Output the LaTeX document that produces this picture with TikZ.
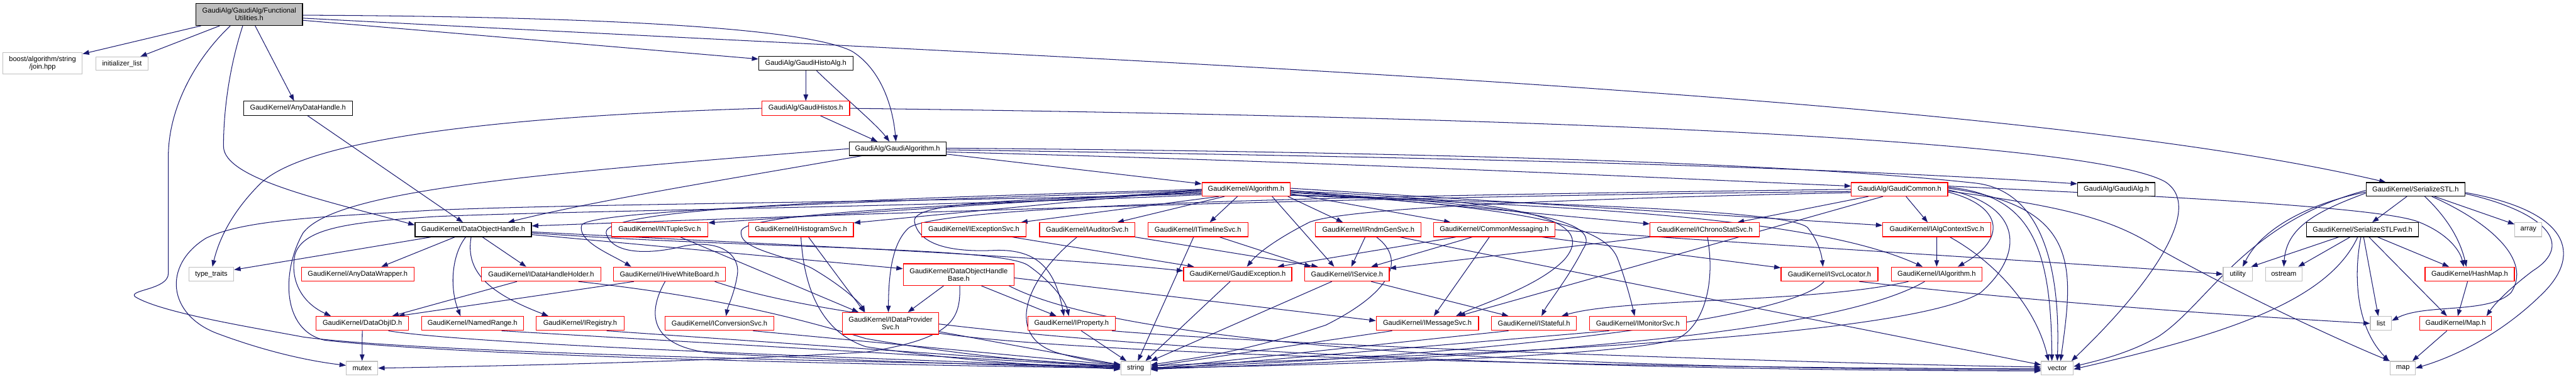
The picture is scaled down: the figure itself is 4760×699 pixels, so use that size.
\documentclass[tikz,border=0pt]{standalone}
\usepackage{fontspec}
\setmainfont{Liberation Sans}
\usetikzlibrary{arrows.meta,calc}
\definecolor{edgec}{HTML}{191970}
\definecolor{graybd}{HTML}{BFBFBF}
\definecolor{topfill}{HTML}{BFBFBF}
\newcommand\fs{\fontsize{9.7}{10.8}\selectfont}
\pgfdeclarelayer{bg}
\pgfdeclarelayer{paper}
\pgfsetlayers{paper,bg,main}
\tikzset{
  base/.style={rectangle, inner sep=0pt, font=\fs, align=center, line width=1pt, fill=white},
  nb/.style={base, draw=black},
  nr/.style={base, draw=red},
  ng/.style={base, draw=graybd},
  nt/.style={base, draw=black, fill=topfill},
  sz/.style 2 args={minimum width=#1*0.75pt, minimum height=#2*0.75pt},
  e/.style={draw=edgec, line width=0.9pt, -{Triangle[length=9pt,width=6.5pt]}}
}
\begin{document}
\begin{tikzpicture}[x=0.75pt,y=-0.75pt]
\begin{pgfonlayer}{paper}
\fill[white] (0,0) rectangle (4760,699);
\end{pgfonlayer}
\path[use as bounding box] (0,0) rectangle (4760,699);
% row 0-4
\node[nt, sz={197}{41}] (fu) at (460.5,26.5) {GaudiAlg/GaudiAlg/Functional\\Utilities.h};
\node[ng, sz={147}{40}] (boost) at (78.5,117) {boost/algorithm/string\\/join.hpp};
\node[ng, sz={97}{25}] (initl) at (225.5,117.5) {initializer\_list};
\node[nb, sz={201}{26}] (adh) at (550.5,200) {GaudiKernel/AnyDataHandle.h};
\node[nb, sz={174}{26}] (gha) at (1489,117) {GaudiAlg/GaudiHistoAlg.h};
\node[nr, sz={162}{26}] (ghs) at (1489,200) {GaudiAlg/GaudiHistos.h};
\node[nb, sz={179}{25}] (galg) at (1658.5,274.5) {GaudiAlg/GaudiAlgorithm.h};
\node[nr, sz={163}{25}] (alg) at (2302.5,349.5) {GaudiKernel/Algorithm.h};
\node[nr, sz={178}{25}] (gcom) at (3510,349.5) {GaudiAlg/GaudiCommon.h};
\node[nb, sz={143}{25}] (galgh) at (3910.5,349.5) {GaudiAlg/GaudiAlg.h};
\node[nb, sz={183}{25}] (sstl) at (4463.5,349.5) {GaudiKernel/SerializeSTL.h};
% row 5
\node[nb, sz={215}{26}] (doh) at (874.5,424) {GaudiKernel/DataObjectHandle.h};
\node[nr, sz={178}{26}] (ntup) at (1219,424) {GaudiKernel/INTupleSvc.h};
\node[nr, sz={194}{26}] (hist) at (1480,424) {GaudiKernel/IHistogramSvc.h};
\node[nr, sz={193}{26}] (exc) at (1799.5,424) {GaudiKernel/IExceptionSvc.h};
\node[nr, sz={176}{26}] (aud) at (2009,424) {GaudiKernel/IAuditorSvc.h};
\node[nr, sz={185}{26}] (tl) at (2213.5,424) {GaudiKernel/ITimelineSvc.h};
\node[nr, sz={195}{26}] (rndm) at (2528.5,424) {GaudiKernel/IRndmGenSvc.h};
\node[nr, sz={224}{26}] (cmsg) at (2761,424) {GaudiKernel/CommonMessaging.h};
\node[nr, sz={202}{26}] (chrono) at (3150,424) {GaudiKernel/IChronoStatSvc.h};
\node[nr, sz={200}{26}] (actx) at (3579,424) {GaudiKernel/IAlgContextSvc.h};
\node[nb, sz={207}{26}] (sfwd) at (4365.5,424) {GaudiKernel/SerializeSTLFwd.h};
\node[ng, sz={50}{26}] (array) at (4672,424) {array};
% row 6
\node[ng, sz={83}{26}] (tt) at (390.5,506) {type\_traits};
\node[nr, sz={208}{26}] (adw) at (661,506) {GaudiKernel/AnyDataWrapper.h};
\node[nr, sz={220}{26}] (dhh) at (1000,506) {GaudiKernel/IDataHandleHolder.h};
\node[nr, sz={206}{26}] (hwb) at (1237,506) {GaudiKernel/IHiveWhiteBoard.h};
\node[nr, sz={205}{40}] (dohb) at (1771.5,507) {GaudiKernel/DataObjectHandle\\Base.h};
\node[nr, sz={200}{26}] (gexc) at (2287,506) {GaudiKernel/GaudiException.h};
\node[nr, sz={156}{26}] (isvc) at (2489,506) {GaudiKernel/IService.h};
\node[nr, sz={179}{26}] (sloc) at (3380.5,506) {GaudiKernel/ISvcLocator.h};
\node[nr, sz={167}{26}] (ialg) at (3578.5,506) {GaudiKernel/IAlgorithm.h};
\node[ng, sz={54}{26}] (util) at (4135,506) {utility};
\node[ng, sz={68}{26}] (ostr) at (4220,506) {ostream};
\node[nr, sz={165}{26}] (hmap) at (4563.5,506) {GaudiKernel/HashMap.h};
% row 7
\node[nr, sz={171}{26}] (doid) at (669.5,597) {GaudiKernel/DataObjID.h};
\node[nr, sz={188}{26}] (nrng) at (873,597) {GaudiKernel/NamedRange.h};
\node[nr, sz={162}{26}] (ireg) at (1072,597) {GaudiKernel/IRegistry.h};
\node[nr, sz={201}{26}] (conv) at (1329.5,597) {GaudiKernel/IConversionSvc.h};
\node[nr, sz={177}{40}] (dps) at (1645.5,597) {GaudiKernel/IDataProvider\\Svc.h};
\node[nr, sz={162}{26}] (prop) at (1980,597) {GaudiKernel/IProperty.h};
\node[nr, sz={189}{26}] (msg) at (2637.5,597) {GaudiKernel/IMessageSvc.h};
\node[nr, sz={157}{26}] (stat) at (2834.5,597) {GaudiKernel/IStateful.h};
\node[nr, sz={179}{26}] (mon) at (3026.5,597) {GaudiKernel/IMonitorSvc.h};
\node[ng, sz={39}{26}] (list) at (4399.5,597) {list};
\node[nr, sz={133}{26}] (mapk) at (4537.5,597) {GaudiKernel/Map.h};
% row 8
\node[ng, sz={58}{25}] (mutex) at (669,679.5) {mutex};
\node[ng, sz={55}{25}] (string) at (2098.5,679.5) {string};
\node[ng, sz={59}{25}] (vector) at (3801.5,679.5) {vector};
\node[ng, sz={46}{25}] (map) at (4440,679.5) {map};

\begin{pgfonlayer}{bg}
% FunctionalUtilities
\draw[e] (fu) -- (boost);
\draw[e] (fu) -- (initl);
\draw[e] (fu) -- (adh);
\draw[e] ($(fu.south)+(-35,0)$) .. controls (360,110) and (311,200) .. (311,290) -- (311,505) .. controls (311,535) and (235,535) .. (250,548) .. controls (300,578) and (470,605) .. (560,622) .. controls (800,655) and (1800,672) .. ($(string.west)+(0,-3)$);
\draw[e] ($(fu.south)+(-12,0)$) .. controls (425,120) and (413,200) .. (413,270) .. controls (413,330) and (600,370) .. ($(doh.north west)+(0,5)$);
\draw[e] ($(fu.east)+(0,1.5)$) .. controls (1000,30) and (1480,45) .. (1575,95) .. controls (1630,130) and (1650,200) .. ($(galg.north)+(-3,0)$);
\draw[e] ($(fu.east)+(0,7)$) .. controls (2000,110) and (3700,170) .. ($(sstl.north)+(-55,0)$);
\draw[e] ($(fu.east)+(0,11)$) -- ($(gha.west)+(0,-8)$);
\draw[e] ($(adh.south)+(18,0)$) -- ($(doh.north west)+(89,0)$);
% Histo
\draw[e] (gha) -- (ghs);
\draw[e] ($(gha.south)+(20,0)$) .. controls (1560,180) and (1620,230) .. ($(galg.north)+(-15,0)$);
\draw[e] ($(ghs.south)+(27,0)$) -- ($(galg.north)+(-37,0)$);
\draw[e] (ghs.west) .. controls (900,215) and (560,260) .. (480,340) .. controls (430,390) and (405,440) .. ($(tt.north)+(2,0)$);
\draw[e] (ghs.east) .. controls (2800,215) and (3850,255) .. (4000,335) .. controls (4080,385) and (3960,540) .. ($(vector.north east)+(-4,0)$);
% GaudiAlgorithm
\draw[e] ($(galg.east)+(0,10)$) -- ($(alg.north west)+(0,3)$);
\draw[e] ($(galg.east)+(0,6)$) .. controls (2500,300) and (3100,330) .. ($(gcom.west)+(0,-6)$);
\draw[e] ($(galg.east)+(0,2)$) .. controls (2500,288) and (3300,303) .. ($(galgh.north west)+(0,3)$);
\draw[e] ($(galg.east)+(0,-1)$) .. controls (2600,280) and (3300,300) .. (3650,338) .. controls (3800,355) and (3805,560) .. (vector.north);
\draw[e] ($(galg.south west)+(24,0)$) .. controls (1350,330) and (1100,370) .. ($(doh.north east)+(-44,0)$);
\draw[e] (galg.west) .. controls (1000,320) and (620,350) .. (560,430) .. controls (520,500) and (520,610) .. (600,628) .. controls (900,662) and (1800,676) .. (string.west);
% Algorithm
\draw[e] ($(alg.west)+(0,2)$) -- ($(ntup.north east)+(0,1)$);
\draw[e] ($(alg.west)+(0,0)$) -- ($(hist.north east)+(0,1)$);
\draw[e] ($(alg.south west)+(32,0)$) -- ($(exc.north east)+(-10,0)$);
\draw[e] ($(alg.south)+(-40,0)$) -- ($(aud.north east)+(-33,0)$);
\draw[e] ($(alg.south)+(-16,0)$) -- ($(tl.north)+(22,0)$);
\draw[e] ($(alg.south east)+(-5,0)$) -- ($(rndm.north west)+(51,0)$);
\draw[e] ($(alg.east)+(0,8)$) -- ($(cmsg.north west)+(32,0)$);
\draw[e] ($(alg.east)+(0,2)$) -- ($(chrono.north west)+(0,3)$);
\draw[e] ($(alg.east)+(0,-2)$) -- ($(actx.west)+(0,-8)$);
\draw[e] ($(alg.south east)+(-34,0)$) -- ($(isvc.north west)+(55,0)$);
\draw[e] ($(alg.east)+(0,10)$) .. controls (2800,375) and (3300,385) .. (3340,420) .. controls (3360,445) and (3366,470) .. ($(sloc.north)+(-12,0)$);
\draw[e] ($(alg.east)+(0,11)$) .. controls (2900,380) and (3350,400) .. ($(ialg.north)+(-26,0)$);
\draw[e] ($(alg.east)+(0,3)$) .. controls (2800,370) and (2960,400) .. (2890,480) .. controls (2840,530) and (2740,560) .. ($(msg.north)+(53,0)$);
\draw[e] ($(alg.east)+(0,5)$) .. controls (2850,380) and (2960,410) .. (2925,460) .. controls (2900,510) and (2860,560) .. ($(stat.north)+(14,0)$);
\draw[e] ($(alg.east)+(0,6)$) .. controls (2850,385) and (2970,420) .. (2990,480) .. controls (3005,520) and (3015,560) .. ($(mon.north)+(-6,0)$);
\draw[e] ($(alg.west)+(0,2)$) .. controls (1700,370) and (1100,385) .. (1075,415) .. controls (1065,445) and (1130,470) .. ($(hwb.north west)+(33,0)$);
\draw[e] (alg.west) .. controls (1700,365) and (1110,380) .. (1120,430) .. controls (1130,470) and (1200,470) .. (1260,455) .. controls (1330,440) and (1370,470) .. (1362,510) .. controls (1356,545) and (1345,565) .. ($(conv.north)+(12,0)$);
\draw[e] ($(alg.west)+(0,4)$) .. controls (1800,380) and (1390,390) .. (1370,425) .. controls (1360,460) and (1450,470) .. (1500,495) .. controls (1560,530) and (1590,560) .. ($(dps.north west)+(42,0)$);
\draw[e] ($(alg.west)+(0,6)$) .. controls (1900,370) and (1680,370) .. (1690,410) .. controls (1700,460) and (1780,465) .. (1840,462) .. controls (1920,460) and (1950,500) .. ($(prop.north)+(-14,0)$);
\draw[e] ($(alg.west)+(0,8)$) .. controls (1800,372) and (1100,375) .. (800,388) .. controls (600,400) and (450,405) .. (380,440) .. controls (300,490) and (310,580) .. (400,615) .. controls (480,645) and (560,665) .. ($(mutex.west)+(0,-5)$);
\draw[e] ($(alg.west)+(0,10)$) .. controls (1800,380) and (1000,390) .. (800,400) .. controls (650,410) and (560,420) .. (545,470) .. controls (535,520) and (560,560) .. ($(doid.north west)+(28,0)$);
% GaudiCommon
\draw[e] ($(gcom.west)+(0,4)$) .. controls (2500,362) and (1500,398) .. ($(doh.east)+(0,-7)$);
\draw[e] ($(gcom.south west)+(32,0)$) -- ($(chrono.north east)+(-41,0)$);
\draw[e] ($(gcom.south)+(12,0)$) -- ($(actx.north)+(-17,0)$);
\draw[e] ($(gcom.south west)+(59,0)$) -- ($(msg.north)+(58,0)$);
\draw[e] ($(gcom.east)+(0,5)$) .. controls (3700,380) and (3710,440) .. ($(ialg.north east)+(-45,0)$);
\draw[e] ($(gcom.west)+(0,6)$) .. controls (3000,365) and (2500,380) .. (2420,410) .. controls (2380,430) and (2330,460) .. ($(gexc.north)+(17,0)$);
\draw[e] (gcom.west) .. controls (2600,360) and (1750,375) .. (1680,420) .. controls (1645,450) and (1642,520) .. ($(dps.north)+(-4,0)$);
\draw[e] ($(gcom.east)+(0,-4)$) .. controls (3750,360) and (3790,450) .. ($(vector.north)+(-10,0)$);
\draw[e] ($(gcom.east)+(0,-2)$) .. controls (3850,380) and (3830,500) .. ($(vector.north)+(6,0)$);
\draw[e] ($(gcom.east)+(0,1)$) .. controls (3740,380) and (3740,470) .. (3660,540) .. controls (3500,640) and (2400,662) .. ($(string.east)+(0,-4)$);
\draw[e] ($(gcom.east)+(0,-6)$) .. controls (3900,358) and (4400,380) .. (4470,410) .. controls (4520,430) and (4545,460) .. ($(hmap.north)+(-11,0)$);
\draw[e] ($(gcom.east)+(0,3)$) .. controls (3800,380) and (3900,400) .. (3990,460) .. controls (4150,550) and (4350,640) .. (map.north west);
% SerializeSTL
\draw[e] ($(sstl.south)+(-16,0)$) -- ($(sfwd.north)+(18,0)$);
\draw[e] ($(sstl.west)+(0,5)$) .. controls (4270,375) and (4180,420) .. ($(util.north)+(9,0)$);
\draw[e] ($(sstl.west)+(0,7)$) .. controls (4280,390) and (4225,420) .. (ostr.north);
\draw[e] ($(sstl.south)+(17,0)$) .. controls (4520,400) and (4545,440) .. ($(hmap.north)+(-6,0)$);
\draw[e] ($(sstl.south)+(35,0)$) -- ($(array.west)+(0,-10)$);
\draw[e] ($(sstl.east)+(0,8)$) .. controls (4700,390) and (4760,450) .. (4680,500) .. controls (4640,530) and (4610,560) .. ($(mapk.north east)+(-10,0)$);
\draw[e] ($(sstl.east)+(0,6)$) .. controls (4750,390) and (4770,470) .. (4700,540) .. controls (4620,620) and (4530,660) .. (map.east);
\draw[e] ($(sstl.south)+(30,0)$) .. controls (4600,410) and (4680,480) .. (4640,540) .. controls (4600,580) and (4480,560) .. ($(list.east)+(0,-5)$);
\draw[e] ($(sstl.west)+(0,2)$) .. controls (4150,410) and (4080,560) .. (3990,620) .. controls (3940,650) and (3880,665) .. ($(vector.east)+(0,-3)$);
% SerializeSTLFwd
\draw[e] ($(sfwd.south)+(-44,0)$) -- ($(util.north east)+(-3,0)$);
\draw[e] ($(sfwd.south)+(-23,0)$) -- ($(ostr.north east)+(-8,0)$);
\draw[e] ($(sfwd.south)+(28,0)$) -- ($(hmap.north west)+(45,0)$);
\draw[e] ($(sfwd.south)+(2,0)$) -- ($(list.north)+(-5,0)$);
\draw[e] ($(sfwd.south)+(12,0)$) -- ($(mapk.north)+(-16,0)$);
\draw[e] ($(sfwd.south)+(-3,0)$) .. controls (4350,500) and (4350,600) .. ($(map.north west)+(-2,0)$);
\draw[e] ($(sfwd.south)+(-9,0)$) .. controls (4300,560) and (4100,620) .. ($(vector.east)+(0,2)$);
\draw[e] (hmap) -- (mapk);
\draw[e] ($(mapk.south)+(-16,0)$) -- ($(map.north east)+(-6,0)$);
% services
\draw[e] (cmsg.east) .. controls (3300,455) and (3900,490) .. (util.west);
\draw[e] ($(sloc.south east)+(-35,0)$) .. controls (3700,550) and (4000,575) .. (list.west);
\draw[e] ($(rndm.south)+(58,0)$) -- ($(vector.west)+(0,-6)$);
\draw[e] ($(cmsg.south east)+(-24,0)$) -- ($(sloc.north west)+(0,2)$);
\draw[e] ($(cmsg.south west)+(72,0)$) -- ($(isvc.north east)+(-34,0)$);
\draw[e] ($(cmsg.south)+(-9,0)$) -- ($(msg.north)+(12,0)$);
\draw[e] ($(cmsg.south west)+(42,0)$) -- ($(gexc.north east)+(-27,0)$);
\draw[e] (chrono.south west) -- ($(isvc.north east)+(0,3)$);
\draw[e] ($(chrono.south)+(5,0)$) .. controls (3170,520) and (3150,600) .. (3100,625) .. controls (3000,660) and (2400,675) .. (string.east);
\draw[e] (actx) -- (ialg);
\draw[e] ($(actx.south)+(24,0)$) .. controls (3680,480) and (3760,560) .. ($(vector.north)+(-16,0)$);
\draw[e] ($(ialg.south west)+(32,0)$) .. controls (3350,560) and (3000,550) .. ($(stat.north east)+(-28,0)$);
\draw[e] ($(ialg.south)+(-22,0)$) .. controls (3350,640) and (2500,668) .. ($(string.east)+(0,2)$);
\draw[e] ($(sloc.south)+(-10,0)$) .. controls (3300,600) and (2600,665) .. ($(string.east)+(0,-1)$);
\draw[e] ($(isvc.south east)+(-34,0)$) -- ($(stat.north west)+(32,0)$);
\draw[e] ($(isvc.south)+(-28,0)$) -- (string.north east);
\draw[e] ($(msg.south west)+(30,0)$) -- ($(string.east)+(0,-3)$);
\draw[e] ($(stat.south west)+(32,0)$) -- ($(string.east)+(0,1)$);
\draw[e] ($(mon.south west)+(37,0)$) -- ($(string.east)+(0,3)$);
\draw[e] ($(rndm.south)+(15,0)$) .. controls (2600,480) and (2570,540) .. (2450,600) .. controls (2300,650) and (2200,662) .. ($(string.east)+(0,-6)$);
\draw[e] ($(aud.south)+(-19,0)$) .. controls (1890,520) and (1860,620) .. (1950,650) .. controls (2000,665) and (2040,670) .. ($(string.west)+(0,-7)$);
\draw[e] ($(tl.south)+(-8,0)$) -- ($(string.north)+(4,0)$);
\draw[e] ($(exc.south east)+(-26,0)$) -- ($(gexc.north west)+(20,0)$);
\draw[e] ($(gexc.south)+(-14,0)$) -- ($(string.north east)+(-10,0)$);
\draw[e] (aud.south east) -- ($(isvc.north west)+(25,0)$);
\draw[e] ($(tl.south)+(40,0)$) -- ($(isvc.north west)+(12,0)$);
\draw[e] ($(rndm.south)+(-6,0)$) -- ($(isvc.north)+(8,0)$);
% DataObjectHandle
\draw[e] ($(doh.south)+(17,0)$) -- ($(dhh.north west)+(83,0)$);
\draw[e] ($(doh.south)+(-14,0)$) .. controls (835,470) and (830,530) .. ($(nrng.north)+(-22,0)$);
\draw[e] ($(doh.south)+(-4,0)$) .. controls (860,500) and (900,540) .. ($(ireg.north west)+(23,0)$);
\draw[e] ($(doh.south west)+(74,0)$) -- ($(adw.north east)+(-61,0)$);
\draw[e] ($(doh.south west)+(30,0)$) -- ($(tt.east)+(0,-8)$);
\draw[e] ($(doh.east)+(0,9)$) -- ($(dohb.west)+(0,-11)$);
\draw[e] ($(doh.east)+(0,4)$) .. controls (1400,450) and (1900,470) .. ($(gexc.west)+(0,-6)$);
\draw[e] ($(doh.east)+(0,6)$) .. controls (1400,460) and (1850,455) .. (1900,490) .. controls (1950,525) and (1970,560) .. ($(prop.north)+(-5,0)$);
\draw[e] ($(dhh.south west)+(66,0)$) -- ($(doid.north east)+(-31,0)$);
\draw[e] ($(hwb.south west)+(38,0)$) -- ($(doid.north east)+(-20,0)$);
\draw[e] ($(dhh.south east)+(-42,0)$) .. controls (1300,545) and (1450,580) .. (1600,625) .. controls (1800,660) and (1950,670) .. ($(string.west)+(0,-4)$);
\draw[e] ($(hwb.south)+(-8,0)$) .. controls (1200,570) and (1190,640) .. (1320,652) .. controls (1600,668) and (1900,675) .. (string.west);
\draw[e] (doid) -- (mutex);
\draw[e] ($(doid.south east)+(-38,0)$) .. controls (900,640) and (1800,668) .. ($(string.west)+(0,-1)$);
\draw[e] ($(nrng.south)+(54,0)$) -- ($(string.west)+(0,-2)$);
\draw[e] ($(ireg.south)+(49,0)$) -- ($(string.west)+(0,-3)$);
\draw[e] ($(conv.south)+(62,0)$) -- ($(string.west)+(0,-5)$);
\draw[e] ($(ntup.south)+(38,0)$) -- ($(dps.north west)+(30,0)$);
\draw[e] ($(hist.south)+(14,0)$) -- ($(dps.north west)+(41,0)$);
\draw[e] (hist.south) .. controls (1485,520) and (1510,610) .. (1600,640) .. controls (1800,670) and (1950,675) .. ($(string.west)+(0,2)$);
\draw[e] ($(dohb.south)+(-28,0)$) -- ($(dps.north east)+(-57,0)$);
\draw[e] ($(dohb.south)+(42,0)$) -- ($(prop.north)+(-28,0)$);
\draw[e] ($(dohb.south)+(2,0)$) .. controls (1775,590) and (1760,625) .. (1600,650) .. controls (1300,668) and (900,676) .. (mutex.east);
\draw[e] ($(dohb.east)+(0,6)$) -- ($(msg.west)+(0,-5)$);
\draw[e] ($(dps.east)+(0,15)$) -- ($(string.west)+(0,-6)$);
\draw[e] ($(prop.south)+(18,0)$) -- ($(string.north)+(-17,0)$);
\draw[e] ($(prop.south east)+(-7,0)$) .. controls (2400,640) and (3400,672) .. ($(vector.west)+(0,-2)$);
\draw[e] ($(dps.east)+(0,18)$) .. controls (2000,655) and (3000,680) .. ($(vector.west)+(0,1)$);
\draw[e] ($(dohb.south east)+(-10,0)$) .. controls (2100,650) and (3000,682) .. ($(vector.west)+(0,3)$);
\draw[e] ($(hwb.south east)+(-20,0)$) .. controls (1700,650) and (3000,685) .. ($(vector.west)+(0,5)$);
\end{pgfonlayer}
\end{tikzpicture}
\end{document}
